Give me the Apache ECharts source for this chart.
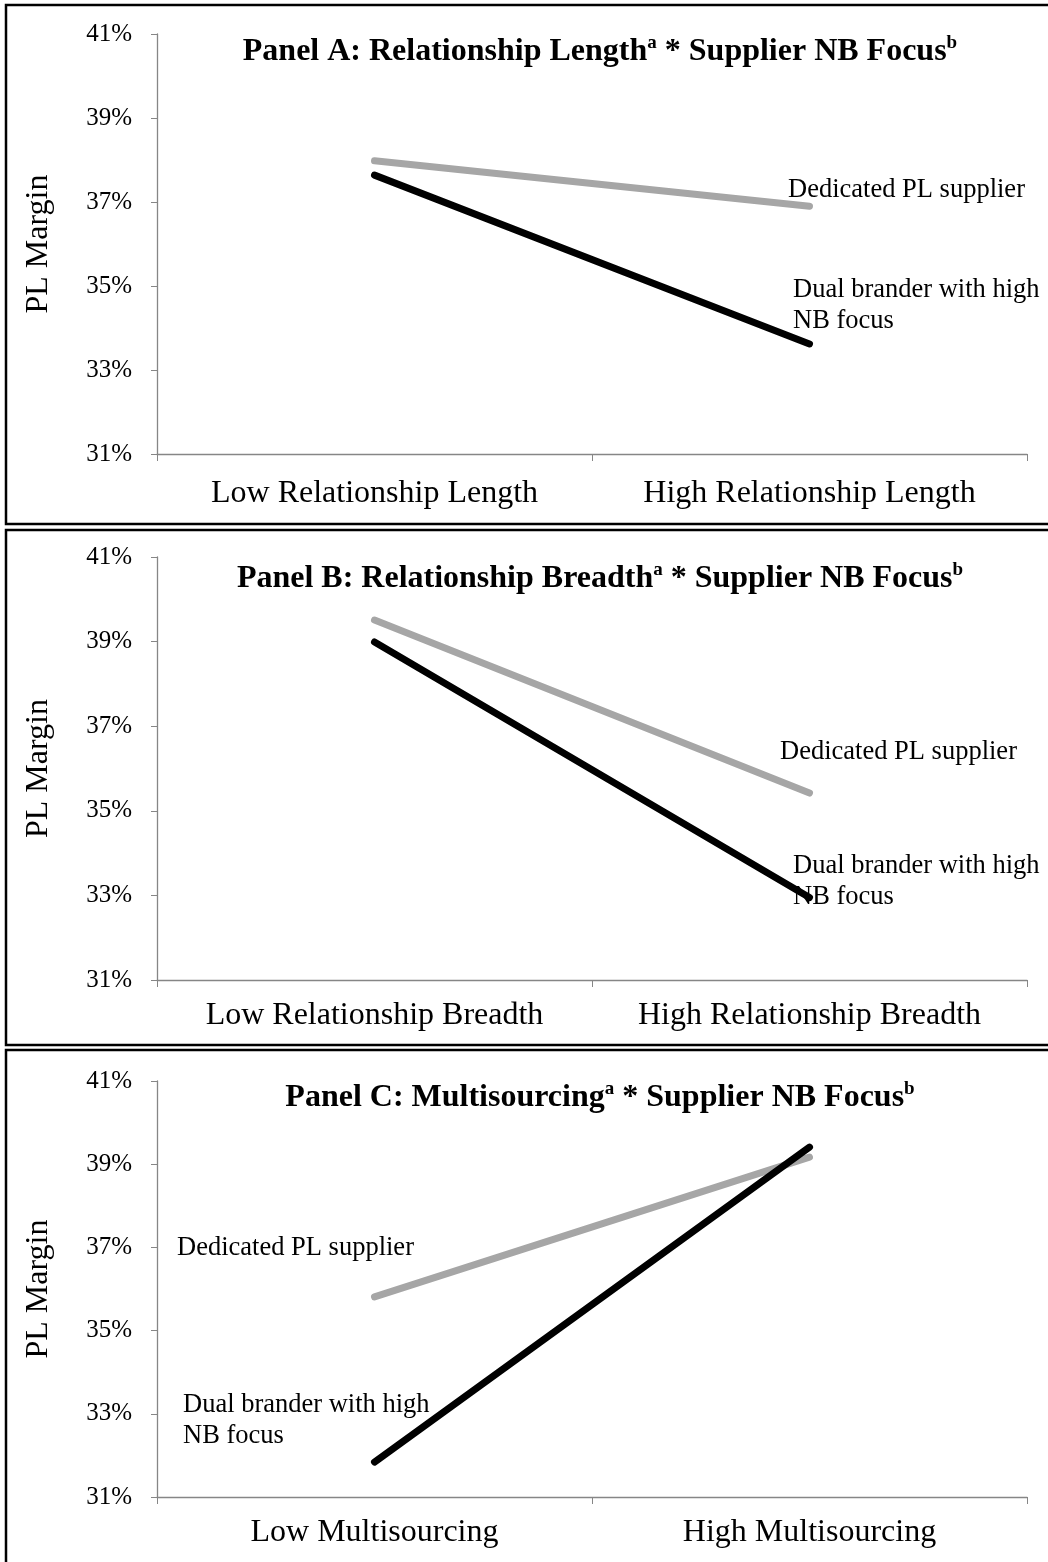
<!DOCTYPE html>
<html>
<head>
<meta charset="utf-8">
<script src="https://cdn.jsdelivr.net/npm/echarts@6/dist/echarts.min.js"></script>
<style>
html,body{margin:0;padding:0;background:#fff;}
#chart{width:1048px;height:1562px;}
</style>
</head>
<body>
<div id="chart"></div>
<script>
// ---- data ----
const categoriesA = ['Low Relationship Length', 'High Relationship Length'];
const categoriesB = ['Low Relationship Breadth', 'High Relationship Breadth'];
const categoriesC = ['Low Multisourcing', 'High Multisourcing'];
const dedicatedA = [37.98, 36.90];
const dualA = [37.64, 33.62];
const dedicatedB = [39.51, 35.42];
const dualB = [38.99, 32.95];
const dedicatedC = [35.81, 39.17];
const dualC = [31.84, 39.41];
const yMin = 31, yMax = 41, yStep = 2;
const seriesNames = ['Dedicated PL supplier', 'Dual brander with high NB focus'];
const titles = [
  ['Panel A: Relationship Length', ' * Supplier NB Focus'],
  ['Panel B: Relationship Breadth', ' * Supplier NB Focus'],
  ['Panel C: Multisourcing', ' * Supplier NB Focus']
];

// ---- layout ----
const FONT = '"Liberation Serif", "Times New Roman", serif';
const panels = [
  {top: 34, height: 420, box: [5, 524], cats: categoriesA, ded: dedicatedA, dual: dualA, titleY: 29, lm: 24,
   labels: [{x: 788, y: 190, t: 'Dedicated PL supplier'}, {x: 793, y: 290, t: 'Dual brander with high\nNB focus'}]},
  {top: 557, height: 423, box: [530, 1045], cats: categoriesB, ded: dedicatedB, dual: dualB, titleY: 556, lm: 20,
   labels: [{x: 780, y: 752, t: 'Dedicated PL supplier'}, {x: 793, y: 866, t: 'Dual brander with high\nNB focus'}]},
  {top: 1081, height: 416, box: [1050, 1600], cats: categoriesC, ded: dedicatedC, dual: dualC, titleY: 1075, lm: 20,
   labels: [{x: 177, y: 1248, t: 'Dedicated PL supplier'}, {x: 183, y: 1405, t: 'Dual brander with high\nNB focus'}]}
];

const grid = [], xAxis = [], yAxis = [], series = [], title = [], graphic = [];
panels.forEach((p, i) => {
  grid.push({left: 157, top: p.top, width: 870, height: p.height});
  xAxis.push({
    type: 'category', gridIndex: i, data: p.cats, boundaryGap: true,
    axisLine: {lineStyle: {color: '#868686', width: 1.3}},
    axisTick: {show: true, length: 7, lineStyle: {color: '#868686'}},
    axisLabel: {color: '#000', fontFamily: FONT, fontSize: 32, margin: p.lm, interval: 0, hideOverlap: false}
  });
  yAxis.push({
    type: 'value', gridIndex: i, min: yMin, max: yMax, interval: yStep,
    name: 'PL Margin', nameLocation: 'middle', nameGap: 102,
    nameTextStyle: {color: '#000', fontFamily: FONT, fontSize: 32},
    splitLine: {show: false},
    axisLine: {show: true, lineStyle: {color: '#868686', width: 1.3}},
    axisTick: {show: true, length: 6, lineStyle: {color: '#868686'}},
    axisLabel: {color: '#000', fontFamily: FONT, fontSize: 25, margin: 25, formatter: v => v + '%'}
  });
  series.push({
    name: seriesNames[0], type: 'line', xAxisIndex: i, yAxisIndex: i, data: p.ded,
    symbol: 'none', lineStyle: {color: '#A6A6A6', width: 7, cap: 'round'}, z: 2
  });
  series.push({
    name: seriesNames[1], type: 'line', xAxisIndex: i, yAxisIndex: i, data: p.dual,
    symbol: 'none', lineStyle: {color: '#000000', width: 7, cap: 'round'}, z: 3
  });
  title.push({
    text: '{m|' + titles[i][0] + '}{s|a}{m|' + titles[i][1] + '}{s|b}',
    left: 595, top: p.titleY, textAlign: 'center',
    textStyle: {
      rich: {
        m: {fontFamily: FONT, fontSize: 32, fontWeight: 'bold', color: '#000', lineHeight: 36},
        s: {fontFamily: FONT, fontSize: 19, fontWeight: 'bold', color: '#000', verticalAlign: 'top', lineHeight: 36, padding: [0, 0, 14, 0]}
      }
    }
  });
  graphic.push({
    type: 'rect', shape: {x: 6, y: p.box[0], width: 1100, height: p.box[1] - p.box[0]},
    style: {fill: 'none', stroke: '#000', lineWidth: 2.5}, silent: true
  });
  p.labels.forEach(l => {
    graphic.push({
      type: 'text', left: l.x, top: l.y - 15,
      style: {text: l.t, fontFamily: FONT, fontSize: 26.5, fill: '#000', lineHeight: 31}
    });
  });
});

const chart = echarts.init(document.getElementById('chart'), null, {renderer: 'canvas'});
chart.setOption({
  backgroundColor: '#fff',
  animation: false,
  title, grid, xAxis, yAxis, series, graphic
});
</script>
</body>
</html>
